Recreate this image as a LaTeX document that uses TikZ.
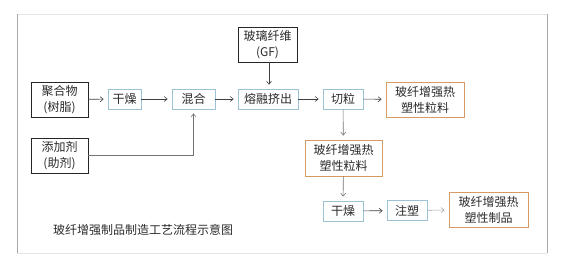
\documentclass[tikz,border=0pt]{standalone}
\usepackage{fontspec}
\setmainfont{Noto Sans CJK SC}
\usetikzlibrary{arrows.meta}
\definecolor{boxblue}{HTML}{9CC3D5}
\definecolor{boxorange}{HTML}{D59B62}
\definecolor{txtgray}{HTML}{2A2A2A}
\definecolor{framegray}{HTML}{A8A8A8}
\definecolor{framelight}{HTML}{E4E4E4}

\begin{document}
\begin{tikzpicture}[x=1pt,y=-1pt,
  box/.style={draw, line width=0.8pt, minimum height=20pt, inner sep=0pt, align=center,
    text=txtgray, font=\fontsize{12}{16}\selectfont},
  blackbox/.style={box, draw=black!85, minimum width=57pt, minimum height=35pt},
  bluebox/.style={box, draw=boxblue},
  orangebox/.style={box, draw=boxorange, minimum width=78pt, minimum height=35pt},
  flow/.style={-{Straight Barb[length=3pt,width=5pt]}, line width=0.6pt, draw=black!75, shorten >=4pt}]
  \useasboundingbox (0,0) rectangle (567,266);
  % Frame
  \draw[framelight, line width=1pt] (17,14) -- (547,14);
  \draw[framelight, line width=1pt] (17,253) -- (547,253);
  \draw[framegray, line width=1pt] (17,14) -- (17,253);
  \draw[framegray, line width=1pt] (547,14) -- (547,253);
  % Raw materials
  \node[blackbox] (poly) at (59.5,99.5) {聚合物\\(树脂)};
  \node[blackbox] (add) at (59.5,155.5) {添加剂\\(助剂)};
  \node[blackbox, minimum width=59pt] (gf) at (267.5,44.5) {玻璃纤维\\(GF)};
  % Compounding line
  \node[bluebox, minimum width=33pt] (dry1) at (124.5,99) {干燥};
  \node[bluebox, minimum width=43pt] (mix) at (193.5,99) {混合};
  \node[bluebox, minimum width=60pt] (melt) at (268,99) {熔融挤出};
  \node[bluebox, minimum width=40pt] (cut) at (343,99) {切粒};
  \node[orangebox] (pel1) at (425,99.5) {玻纤增强热\\塑性粒料};
  % Moulding line
  \node[orangebox, minimum width=77pt, minimum height=36pt] (pel2) at (343.5,158) {玻纤增强热\\塑性粒料};
  \node[bluebox, minimum width=40pt] (dry2) at (343,211) {干燥};
  \node[bluebox, minimum width=40pt] (mold) at (407,210.5) {注塑};
  \node[orangebox, minimum width=79pt] (prod) at (488.5,209.5) {玻纤增强热\\塑性制品};
  % Arrows
  \draw[flow] (poly) -- (dry1);
  \draw[flow] (dry1) -- (mix);
  \draw[flow] (mix) -- (melt);
  \draw[flow] (melt) -- (cut);
  \draw[flow] (cut) -- (pel1);
  \draw[flow, draw=black!55] (add.east) -| (mix.south);
  \draw[flow] (gf.south -| 269,0) -- (melt.north -| 269,0);
  \draw[flow, draw=black!55] (cut) -- (pel2);
  \draw[flow, draw=black!55] (pel2) -- (dry2);
  \draw[flow] (dry2) -- (mold);
  \draw[flow, draw=black!35] (mold) -- (prod);
  % Caption
  \node[text=txtgray, font=\fontsize{12}{14}\selectfont] (title) at (143,230) {玻纤增强制品制造工艺流程示意图};
\end{tikzpicture}
\end{document}
